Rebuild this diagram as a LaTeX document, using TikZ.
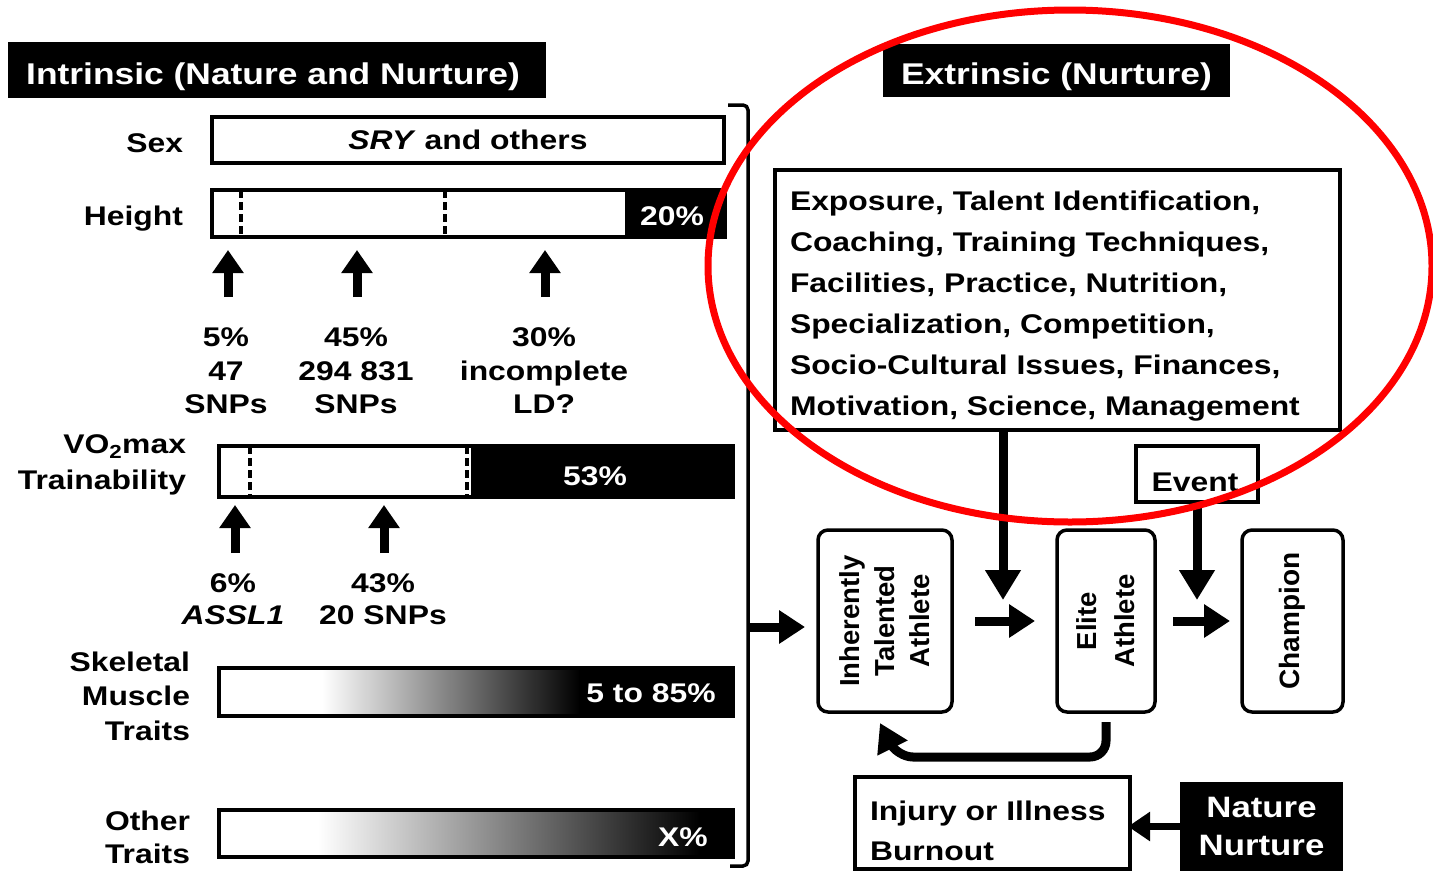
\documentclass[tikz,border=0pt]{standalone}
\usepackage{fontspec}
\setmainfont{Liberation Sans}[FakeStretch=1.18]
\newfontfamily\rotfont{Liberation Sans}
\usetikzlibrary{arrows.meta}
\newcommand{\fs}[2]{\bfseries\fontsize{#1}{#2}\selectfont}
\tikzset{
  every node/.style={inner sep=0pt, outer sep=0pt},
  lbl/.style={font=\fs{27}{33}},
  wlbl/.style={font=\fs{27}{33}, text=white},
  titlebox/.style={fill=black},
  titletext/.style={text=white, font=\fs{30}{36}},
  barbox/.style={draw, line width=4pt, fill=white},
  boxline/.style={draw, line width=3.5pt},
  rbox/.style={draw, line width=3.5pt, rounded corners=10pt},
  rottext/.style={rotate=90, align=center},
  dashline/.style={line width=3.5pt, dash pattern=on 8pt off 4pt},
  uparrow/.style={line width=9pt, -{Triangle[width=30pt,length=23pt]}},
  flowarrow/.style={line width=9pt, -{Triangle[width=32pt,length=26pt]}},
  downarrow/.style={line width=9pt, -{Triangle[width=34pt,length=30pt]}},
  smallarrow/.style={line width=7pt, -{Triangle[width=28pt,length=22pt]}},
}
\begin{document}
\begin{tikzpicture}[x=1pt,y=-1pt]
\useasboundingbox (0,0) rectangle (1433,871);

% titles
\node[titlebox, minimum width=538pt, minimum height=56pt] (tin) at (277,70) {};
\node[titletext, anchor=base] (tint) at (273,84) {Intrinsic (Nature and Nurture)};
\node[titlebox, minimum width=347pt, minimum height=53pt] (tex) at (1056.5,70.5) {};
\node[titletext, anchor=base] (text) at (1056.5,84) {Extrinsic (Nurture)};

% bracket
\coordinate (bt) at (748,105);
\coordinate (bb) at (748,866);
\coordinate (brk) at (748,627);
\draw[line width=3.5pt, rounded corners=5pt] (728,105) -- (bt) -- (bb) -- (730,866);

% Sex
\node[lbl, anchor=base east] (lsex) at (183,152) {Sex};
\node[barbox, minimum width=512pt, minimum height=46pt, font=\fs{27}{33}] (bsex) at (468,140) {\textit{SRY} and others};

% Height
\node[lbl, anchor=base east] (lh) at (183,225) {Height};
\node[barbox, minimum width=513pt, minimum height=47pt] (bh) at (468.5,213.5) {};
\fill (625,190) rectangle (725,237);
\draw[dashline] (241,190) -- (241,237);
\draw[dashline] (445,190) -- (445,237);
\draw[line width=4pt] (bh.north west) rectangle (bh.south east);
\node[wlbl, anchor=base] (h20) at (672,225) {20\%};

\coordinate (h1) at (228,297);
\coordinate (h2) at (357,297);
\coordinate (h3) at (545,297);
\draw[uparrow, shorten >=13pt] (h1) -- (h1 |- bh.south);
\draw[uparrow, shorten >=13pt] (h2) -- (h2 |- bh.south);
\draw[uparrow, shorten >=13pt] (h3) -- (h3 |- bh.south);

\node[align=center, font=\fs{27}{33.5}] (p1) at (226,371) {5\%\\47\\SNPs};
\node[align=center, font=\fs{27}{33.5}] (p2) at (356,371) {45\%\\294 831\\SNPs};
\node[align=center, font=\fs{27}{33.5}] (p3) at (544,371) {30\%\\incomplete\\LD?};

% VO2max
\node[align=right, anchor=east, font=\fs{27}{36}] (lvo) at (186,465) {VO\textsubscript{2}max\\Trainability};
\node[barbox, minimum width=514pt, minimum height=51pt] (bvo) at (476,471.5) {};
\fill (471,446) rectangle (733,497);
\draw[dashline] (250,446) -- (250,497);
\draw[dashline] (467,446) -- (467,497);
\draw[line width=4pt] (bvo.north west) rectangle (bvo.south east);
\node[wlbl, anchor=base] (v53) at (595,485) {53\%};

\coordinate (v1) at (235,553);
\coordinate (v2) at (384,553);
\draw[uparrow, shorten >=8pt] (v1) -- (v1 |- bvo.south);
\draw[uparrow, shorten >=8pt] (v2) -- (v2 |- bvo.south);

\node[align=center, font=\fs{27}{32}] (q1) at (233,599) {6\%\\\textit{ASSL1}};
\node[align=center, font=\fs{27}{32}] (q2) at (383,599) {43\%\\20 SNPs};

% Skeletal muscle
\node[align=right, anchor=east, font=\fs{27}{34.5}] (lsk) at (190,696) {Skeletal\\Muscle\\Traits};
\node[barbox, minimum width=514pt, minimum height=48pt] (bsk) at (476,692) {};
\shade[left color=white, right color=black] (322,668) rectangle (580,716);
\fill (579,668) rectangle (733,716);
\draw[line width=4pt] (bsk.north west) rectangle (bsk.south east);
\node[wlbl, anchor=base] (s85) at (651,702) {5 to 85\%};

% Other traits
\node[align=right, anchor=east, font=\fs{27}{33}] (lot) at (190,837) {Other\\Traits};
\node[barbox, minimum width=514pt, minimum height=47pt] (bot) at (476,833.5) {};
\shade[left color=white, right color=black] (318,810) rectangle (700,857);
\fill (699,810) rectangle (733,857);
\draw[line width=4pt] (bot.north west) rectangle (bot.south east);
\node[wlbl, anchor=base] (oX) at (683,846) {X\%};

% Extrinsic box
\node[boxline, minimum width=565pt, minimum height=260pt] (ext) at (1057.5,300) {};
\node[anchor=north west, align=left, font=\fs{27}{41}] (extt) at (790,190.5) {Exposure, Talent Identification,\\Coaching, Training Techniques,\\Facilities, Practice, Nutrition,\\Specialization, Competition,\\Socio-Cultural Issues, Finances,\\Motivation, Science, Management};

% Event
\node[boxline, minimum width=122pt, minimum height=56pt] (ev) at (1197,474) {};
\node[lbl, anchor=base] (evt) at (1195,491) {Event};

% athlete boxes
\node[rbox, minimum width=134pt, minimum height=182pt] (ita) at (885,621) {};
\node[rottext, font=\rotfont\bfseries\fontsize{27.5}{35}\selectfont] (itat) at (ita.center) {Inherently\\Talented\\Athlete};
\node[rbox, minimum width=98pt, minimum height=182pt] (eli) at (1106,621) {};
\node[rottext, font=\rotfont\bfseries\fontsize{27.5}{38}\selectfont] (elit) at (eli.center) {Elite\\Athlete};
\node[rbox, minimum width=101pt, minimum height=182pt] (cha) at (1292.5,621) {};
\node[rottext, font=\rotfont\bfseries\fontsize{28}{34}\selectfont] (chat) at (1292,621) {Champion};

% vertical arrows
\coordinate (ea) at (1003,430);
\coordinate (eat) at (1003,600);
\draw[downarrow] (ea) -- (eat);
\coordinate (evb) at (1197,600);
\draw[downarrow] (ev.south) -- (evb);

% horizontal arrows
\draw[flowarrow, shorten >=13pt] (brk) -- (brk -| ita.west);
\draw[flowarrow, shorten <=23pt, shorten >=22pt] (ita.east) -- (eli.west);
\draw[flowarrow, shorten <=18pt, shorten >=12pt] (eli.east) -- (cha.west);

% feedback arrow
\coordinate (fbt) at (880,723);
\draw[line width=9pt, rounded corners=16pt, -{Triangle[width=32pt,length=28pt]}]
  ([yshift=-10pt]eli.south) -- ++(0,35) -- (897,757) -- (fbt);

% injury / nature nurture
\node[boxline, minimum width=275pt, minimum height=92pt] (inj) at (992.5,823) {};
\node[anchor=north west, align=left, font=\fs{27}{40}] (injt) at (870,800.5) {Injury or Illness\\Burnout};
\node[fill=black, text=white, align=center, minimum width=163pt, minimum height=89pt, font=\fs{29.5}{38}] (nat) at (1261.5,826.5) {Nature\\Nurture};
\draw[smallarrow, shorten >=-2pt] (nat.west) -- (nat.west -| inj.east);

% red ellipse
\draw[red, line width=7pt] (1070,266) ellipse [x radius=362, y radius=256];
\end{tikzpicture}
\end{document}
